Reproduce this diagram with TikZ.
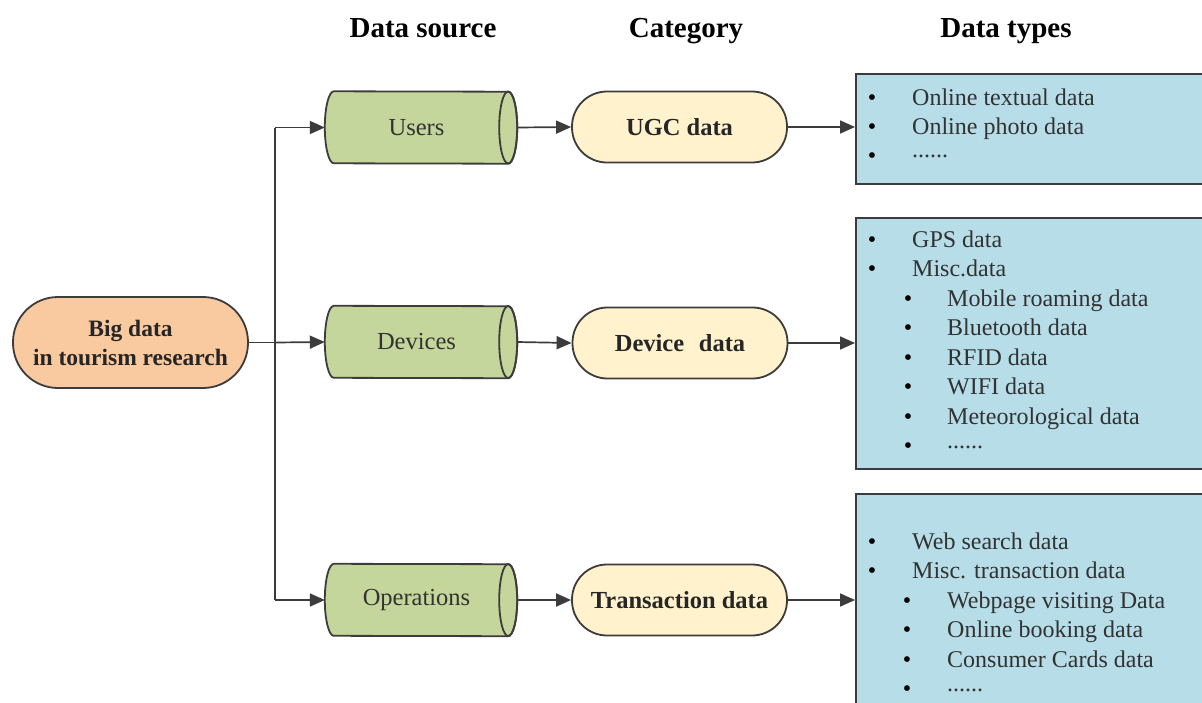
\documentclass[tikz,border=0pt]{standalone}
\usepackage{fontspec}
\setmainfont{Liberation Serif}
\usetikzlibrary{arrows.meta,calc,backgrounds}
\definecolor{lineC}{RGB}{60,60,60}
\definecolor{orangeF}{RGB}{249,201,160}
\definecolor{greenF}{RGB}{196,214,156}
\definecolor{creamF}{RGB}{255,242,204}
\definecolor{blueF}{RGB}{183,221,232}
\definecolor{txtC}{RGB}{50,50,50}
\tikzset{
 shapeline/.style={draw=lineC, line width=1.8pt},
 bigbox/.style={shapeline, fill=orangeF, rounded corners=45pt, minimum width=235pt, minimum height=91pt, inner sep=0pt, align=center, font=\fontsize{23.5}{29}\selectfont\bfseries, text=black!85},
 cylnode/.style={inner sep=0pt, minimum width=183pt, minimum height=72pt, font=\fontsize{24.5}{29}\selectfont, text=txtC},
 catbox/.style={shapeline, fill=creamF, rounded corners=35pt, minimum width=215pt, minimum height=71pt, inner sep=0pt, font=\fontsize{24.5}{29}\selectfont\bfseries, text=black!85},
 typebox/.style={shapeline, fill=blueF, anchor=north west, inner sep=0pt, minimum width=370pt},
 header/.style={font=\fontsize{29}{34}\selectfont\bfseries, anchor=base, inner sep=0pt},
 itemtxt/.style={anchor=base west, inner sep=0pt, font=\fontsize{24}{29}\selectfont, text=txtC},
 bulnode/.style={anchor=base, inner sep=0pt, font=\fontsize{24}{29}\selectfont, text=black},
 conn/.style={draw=lineC, line width=1.7pt},
 arr/.style={conn, -{Triangle[length=15pt,width=13pt]}},
}
\newcommand\cylshape[1]{%
 \filldraw[shapeline, fill=greenF] ($(#1.north west)+(9pt,0)$) arc[start angle=90,end angle=270,x radius=9pt,y radius=36pt] -- (#1.south east) arc[start angle=-90,end angle=90,x radius=9pt,y radius=36pt] -- cycle;
 \draw[shapeline] (#1.east) ellipse[x radius=9pt,y radius=36pt];}
\newcommand\bitem[5]{\node[bulnode] (#1b) at (#2,#4) {\textbullet}; \node[itemtxt] (#1) at (#3,#4) {#5};}
\newcommand\dotsrow{\raisebox{0.22em}{......}}
\begin{document}
\begin{tikzpicture}[x=1pt,y=-1pt]
\useasboundingbox (0,0) rectangle (1202,702);
\clip (0,0) rectangle (1202,702);
% headers
\node[header] (h1) at (423,37) {Data source};
\node[header] (h2) at (686,37) {Category};
\node[header] (h3) at (1006,37) {Data types};
% root
\node[bigbox] (big) at (130.5,342.5) {Big data\\in tourism research};
% cylinders
\node[cylnode] (users) at (416.5,127.5) {Users};
\node[cylnode] (devices) at (416.5,342) {Devices};
\node[cylnode] (ops) at (416.5,600) {Operations};
\begin{scope}[on background layer]
\fill[white] (0,0) rectangle (1202,702);
\cylshape{users}
\cylshape{devices}
\cylshape{ops}
\end{scope}
% categories
\node[catbox] (ugc) at (679.5,127) {UGC data};
\node[catbox] (dev) at (680,343) {Device\hspace{0.35em} data};
\node[catbox] (trans) at (679.5,600) {Transaction data};
% type boxes
\node[typebox, minimum height=110pt] (t1) at (855,73) {};
\node[typebox, minimum height=251pt] (t2) at (855,217) {};
\node[typebox, minimum height=240pt] (t3) at (855,493) {};
% items
\bitem{a1}{872}{912}{105}{Online textual data}
\bitem{a2}{872}{912}{134}{Online photo data}
\bitem{a3}{872}{912}{163}{\dotsrow}
\bitem{b1}{872}{912}{247}{GPS data}
\bitem{b2}{872}{912}{276.5}{Misc.data}
\bitem{b3}{908}{947}{306}{Mobile roaming data}
\bitem{b4}{908}{947}{335.5}{Bluetooth data}
\bitem{b5}{908}{947}{365}{RFID data}
\bitem{b6}{908}{947}{394.5}{WIFI data}
\bitem{b7}{908}{947}{424}{Meteorological data}
\bitem{b8}{908}{947}{453.5}{\dotsrow}
\bitem{c1}{872}{912}{549}{Web search data}
\bitem{c2}{872}{912}{578.5}{Misc. transaction data}
\bitem{c3}{907}{947}{608}{Webpage visiting Data}
\bitem{c4}{907}{947}{637.5}{Online booking data}
\bitem{c5}{907}{947}{667}{Consumer Cards data}
\bitem{c6}{907}{947}{696.5}{\dotsrow}
% connectors
\coordinate (j1) at (275,127.5);
\coordinate (j2) at (275,342.5);
\coordinate (j3) at (275,600);
\draw[conn] (big.east) -- (j2);
\draw[conn] (j1) -- (j3);
\draw[arr] (j1) -- (users.west);
\draw[arr] (j2) -- (devices.west);
\draw[arr] (j3) -- (ops.west);
\draw[arr] ($(users.east)+(9pt,0)$) -- (ugc.west);
\draw[arr] ($(devices.east)+(9pt,0)$) -- (dev.west);
\draw[arr] ($(ops.east)+(9pt,0)$) -- (trans.west);
\draw[arr] (ugc.east) -- (ugc.east -| t1.west);
\draw[arr] (dev.east) -- (dev.east -| t2.west);
\draw[arr] (trans.east) -- (trans.east -| t3.west);
\end{tikzpicture}
\end{document}
